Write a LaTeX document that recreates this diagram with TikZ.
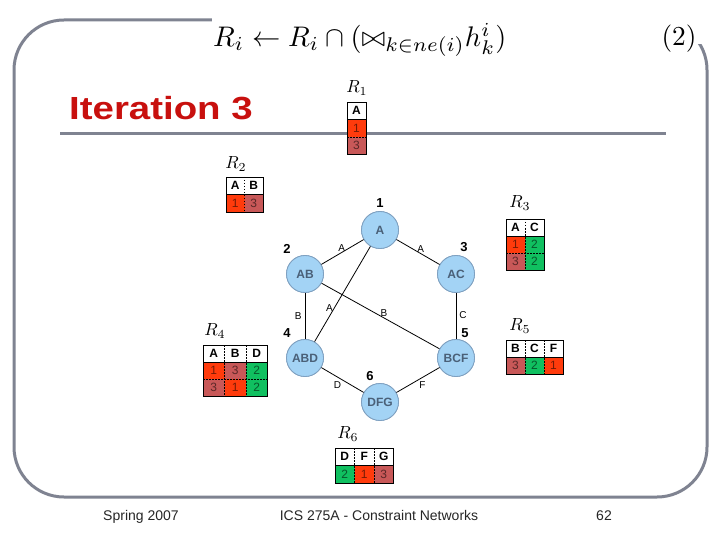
\documentclass[tikz,border=0pt]{standalone}
\usepackage{fontspec}
\setmainfont{Liberation Sans}
\usepackage{graphicx}
\usetikzlibrary{calc}
\definecolor{framegray}{HTML}{7F8391}
\definecolor{titlered}{HTML}{C8100E}
\definecolor{cred}{HTML}{FF3B0C}
\definecolor{crose}{HTML}{C85858}
\definecolor{cgreen}{HTML}{10C060}
\definecolor{nodefill}{HTML}{A3D3F5}
\definecolor{nodedraw}{HTML}{7FA0C0}
\definecolor{nodetext}{HTML}{4A6078}
\newcommand{\hcell}[5]{% x y w h text
  \fill[white] (#1,#2) rectangle ++(#3,#4);
  \node[hdtxt] at ({#1+#3/2},{#2+#4/2}) {#5};}
\newcommand{\dcell}[6]{% x y w h fill text
  \fill[#5] (#1,#2) rectangle ++(#3,#4);
  \node[celltxt] at ({#1+#3/2},{#2+#4/2}) {#6};}
\newcommand{\rname}[1]{\scalebox{1.75}{$R_{#1}$}}
\tikzset{
  hdtxt/.style={inner sep=0pt, font=\bfseries\fontsize{12}{12}\selectfont},
  celltxt/.style={inner sep=0pt, text=black, text opacity=0.55, font=\fontsize{12}{12}\selectfont},
  tabline/.style={black, line width=0.7pt},
  tabdash/.style={black, line width=0.6pt, dash pattern=on 1.5pt off 1.5pt},
  rlbl/.style={inner sep=0pt},
  cnode/.style={circle, minimum size=37pt, inner sep=0pt, fill=nodefill, draw=nodedraw, line width=0.8pt, text=nodetext, font=\bfseries\fontsize{12}{12}\selectfont},
  num/.style={inner sep=0pt, font=\bfseries\fontsize{13}{13}\selectfont},
  lbl/.style={inner sep=1pt, font=\fontsize{10}{10}\selectfont},
  edge/.style={black, line width=0.8pt},
  foot/.style={inner sep=0pt, anchor=base, text=black!85, font=\fontsize{14}{14}\selectfont},
}
\begin{document}
\begin{tikzpicture}[x=1pt,y=-1pt]
\useasboundingbox (0,0) rectangle (720,540);
\fill[white] (0,0) rectangle (720,540);
% frame
\draw[framegray, line width=3pt, rounded corners=50pt] (14,20) rectangle (707,497);
\fill[white] (212,0) rectangle (702,44);
\draw[framegray, line width=3pt] (60,134) -- (666,134);
% title and formula
\node[anchor=base west, inner sep=0pt, text=titlered, font=\bfseries\fontsize{32}{32}\selectfont] (title) at (69,120) {\scalebox{1.2}[1]{Iteration 3}};
\node[anchor=west, inner sep=0pt] (formula) at (213,40) {\resizebox{293pt}{!}{$R_i \leftarrow R_i \cap (\mathord{\bowtie}_{k\in ne(i)} h_k^i)$}};
\node[inner sep=0pt] (eqno) at (679,39) {\resizebox{35pt}{!}{$(2)$}};
% graph nodes
\node[cnode] (A) at (380,230) {A};
\node[cnode] (AB) at (305,274) {AB};
\node[cnode] (AC) at (456,274) {AC};
\node[cnode] (ABD) at (305,358) {ABD};
\node[cnode] (BCF) at (456,358) {BCF};
\node[cnode] (DFG) at (380,402) {DFG};
\node[num] (n1) at (380,203) {1};
\node[num] (n2) at (287,249) {2};
\node[num] (n3) at (464,247) {3};
\node[num] (n4) at (287,333) {4};
\node[num] (n5) at (465,333) {5};
\node[num] (n6) at (370,376) {6};
% edges
\draw[edge] (A) -- node[lbl, above, pos=0.52] {A} (AB);
\draw[edge] (A) -- node[lbl, above, pos=0.56] {A} (AC);
\draw[edge] (A) -- node[lbl, left, pos=0.65] {A} (ABD);
\draw[edge] (AB) -- node[lbl, left=2pt, pos=0.5] {B} (ABD);
\draw[edge] (AB) -- node[lbl, above, pos=0.53] {B} (BCF);
\draw[edge] (AC) -- node[lbl, right=2pt, pos=0.48] {C} (BCF);
\draw[edge] (ABD) -- node[lbl, below left, pos=0.5] {D} (DFG);
\draw[edge] (BCF) -- node[lbl, below right, pos=0.5] {F} (DFG);
% redraw nodes over edges
\node[cnode] at (A) {A};
\node[cnode] at (AB) {AB};
\node[cnode] at (AC) {AC};
\node[cnode] at (ABD) {ABD};
\node[cnode] at (BCF) {BCF};
\node[cnode] at (DFG) {DFG};
% R1
\node[rlbl] (r1) at (357,88) {\rname{1}};
\hcell{347}{102}{19}{17.5}{A}
\dcell{347}{119.5}{19}{17.5}{cred}{1}
\dcell{347}{137}{19}{17.5}{crose}{3}
\draw[tabline] (347,102) rectangle (366,154.5);
\draw[tabline] (347,119.5) -- (366,119.5);
\draw[tabdash] (347,137) -- (366,137);
% R2
\node[rlbl] (r2) at (236,164) {\rname{2}};
\hcell{226}{177}{18.5}{17.5}{A}
\hcell{244.5}{177}{18.5}{17.5}{B}
\dcell{226}{194.5}{18.5}{17.5}{cred}{1}
\dcell{244.5}{194.5}{18.5}{17.5}{crose}{3}
\draw[tabline] (226,177) rectangle (263,212);
\draw[tabline] (226,194.5) -- (263,194.5);
\draw[tabdash] (244.5,177) -- (244.5,212);
% R3
\node[rlbl] (r3) at (520,203) {\rname{3}};
\hcell{506}{219}{19}{17}{A}
\hcell{525}{219}{19}{17}{C}
\dcell{506}{236}{19}{17}{cred}{1}
\dcell{525}{236}{19}{17}{cgreen}{2}
\dcell{506}{253}{19}{17}{crose}{3}
\dcell{525}{253}{19}{17}{cgreen}{2}
\draw[tabline] (506,219) rectangle (544,270);
\draw[tabline] (506,236) -- (544,236);
\draw[tabdash] (506,253) -- (544,253);
\draw[tabdash] (525,219) -- (525,270);
% R4
\node[rlbl] (r4) at (215,331) {\rname{4}};
\hcell{203}{345}{21.5}{17}{A}
\hcell{224.5}{345}{21.5}{17}{B}
\hcell{246}{345}{21.5}{17}{D}
\dcell{203}{362}{21.5}{17}{cred}{1}
\dcell{224.5}{362}{21.5}{17}{crose}{3}
\dcell{246}{362}{21.5}{17}{cgreen}{2}
\dcell{203}{379}{21.5}{17}{crose}{3}
\dcell{224.5}{379}{21.5}{17}{cred}{1}
\dcell{246}{379}{21.5}{17}{cgreen}{2}
\draw[tabline] (203,345) rectangle (267.5,396);
\draw[tabline] (203,362) -- (267.5,362);
\draw[tabdash] (203,379) -- (267.5,379);
\draw[tabdash] (224.5,345) -- (224.5,396);
\draw[tabdash] (246,345) -- (246,396);
% R5
\node[rlbl] (r5) at (520,326) {\rname{5}};
\hcell{506}{340}{19}{17}{B}
\hcell{525}{340}{19}{17}{C}
\hcell{544}{340}{19}{17}{F}
\dcell{506}{357}{19}{17}{crose}{3}
\dcell{525}{357}{19}{17}{cgreen}{2}
\dcell{544}{357}{19}{17}{cred}{1}
\draw[tabline] (506,340) rectangle (563,374);
\draw[tabline] (506,357) -- (563,357);
\draw[tabdash] (525,340) -- (525,374);
\draw[tabdash] (544,340) -- (544,374);
% R6
\node[rlbl] (r6) at (348,434) {\rname{6}};
\hcell{335}{448}{19.5}{17.5}{D}
\hcell{354.5}{448}{19.5}{17.5}{F}
\hcell{374}{448}{19.5}{17.5}{G}
\dcell{335}{465.5}{19.5}{17.5}{cgreen}{2}
\dcell{354.5}{465.5}{19.5}{17.5}{cred}{1}
\dcell{374}{465.5}{19.5}{17.5}{crose}{3}
\draw[tabline] (335,448) rectangle (393.5,483);
\draw[tabline] (335,465.5) -- (393.5,465.5);
\draw[tabdash] (354.5,448) -- (354.5,483);
\draw[tabdash] (374,448) -- (374,483);
% footer
\node[foot] (f1) at (141,520) {Spring 2007};
\node[foot] (f2) at (379,520) {ICS 275A - Constraint Networks};
\node[foot] (f3) at (604,520) {62};
\end{tikzpicture}
\end{document}
